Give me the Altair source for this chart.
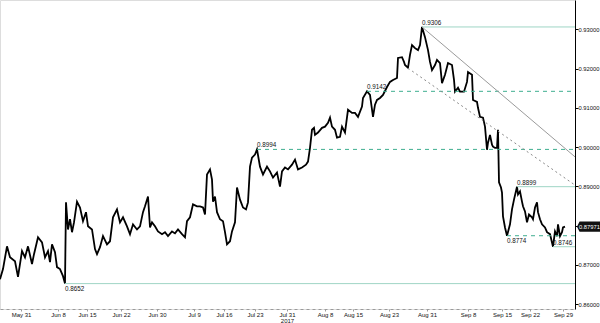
import altair as alt
import pandas as pd

# ---- price series (bar index on a trading-time axis, price) ----
bars = [0, 3, 7, 10, 15, 18, 22, 25, 28, 32, 34, 38, 42, 45, 48, 50, 52, 55, 57, 60,
        63, 65, 66, 68, 70, 72, 74, 77, 80, 83, 86, 88, 92, 95, 97, 100, 103, 107, 110, 113,
        117, 120, 123, 127, 130, 133, 137, 140, 143, 145, 148, 150, 152, 155, 158, 162, 165, 168, 172, 175,
        178, 182, 185, 187, 190, 193, 197, 200, 203, 205, 207, 210, 212, 213, 215, 217, 220, 223, 225, 227,
        230, 232, 235, 237, 240, 243, 246, 248, 250, 252, 255, 257, 260, 263, 267, 270, 273, 277, 280, 282,
        285, 288, 292, 295, 298, 302, 306, 308, 310, 312, 314, 315, 318, 322, 325, 328, 330, 332, 335, 337,
        340, 342, 345, 348, 352, 355, 358, 362, 363, 367, 370, 373, 375, 377, 380, 383, 387, 390, 393, 397,
        398, 402, 404, 405, 408, 410, 412, 415, 418, 420, 422, 425, 428, 430, 432, 435, 437, 440, 442, 445,
        448, 452, 454, 455, 458, 460, 464, 467, 468, 472, 473, 477, 478, 480, 483, 485, 487, 488, 490, 492,
        493, 495, 497, 498, 499, 501, 502, 503, 505, 507, 510, 512, 514, 517, 518, 520, 522, 523, 525, 527,
        529, 532, 533, 535, 537, 538, 540, 542, 545, 547, 550, 553, 555, 557, 558, 560, 562, 563, 565]
prices = [0.8663, 0.8689, 0.8747, 0.8719, 0.8709, 0.8669, 0.8735, 0.8719, 0.8747, 0.8702,
          0.8727, 0.8770, 0.8757, 0.8719, 0.8735, 0.8707, 0.8752, 0.8732, 0.8694, 0.8689,
          0.8671, 0.8652, 0.8859, 0.8790, 0.8816, 0.8783, 0.8808, 0.8861, 0.8846, 0.8811,
          0.8834, 0.8798, 0.8790, 0.8740, 0.8727, 0.8745, 0.8773, 0.8752, 0.8760, 0.8821,
          0.8841, 0.8808, 0.8821, 0.8798, 0.8778, 0.8803, 0.8790, 0.8798, 0.8834, 0.8849,
          0.8874, 0.8795, 0.8808, 0.8798, 0.8785, 0.8778, 0.8783, 0.8773, 0.8785, 0.8780,
          0.8790, 0.8778, 0.8770, 0.8811, 0.8821, 0.8854, 0.8849, 0.8849, 0.8846, 0.8828,
          0.8930, 0.8943, 0.8917, 0.8861, 0.8874, 0.8834, 0.8816, 0.8811, 0.8783, 0.8752,
          0.8760, 0.8785, 0.8808, 0.8897, 0.8866, 0.8846, 0.8841, 0.8859, 0.8950, 0.8973,
          0.8981, 0.8994, 0.8950, 0.8930, 0.8950, 0.8938, 0.8922, 0.8935, 0.8899, 0.8938,
          0.8948, 0.8943, 0.8955, 0.8968, 0.8943, 0.8948, 0.8955, 0.8963, 0.8998, 0.9044,
          0.9049, 0.9031, 0.9037, 0.9049, 0.9052, 0.9062, 0.9075, 0.9052, 0.9044, 0.9024,
          0.9026, 0.9052, 0.9037, 0.9095, 0.9087, 0.9087, 0.9077, 0.9103, 0.9125, 0.9142,
          0.9133, 0.9077, 0.9108, 0.9120, 0.9125, 0.9133, 0.9153, 0.9166, 0.9171, 0.9176,
          0.9227, 0.9229, 0.9217, 0.9209, 0.9202, 0.9235, 0.9260, 0.9252, 0.9247, 0.9260,
          0.9306, 0.9280, 0.9247, 0.9217, 0.9196, 0.9209, 0.9222, 0.9214, 0.9163, 0.9184,
          0.9214, 0.9209, 0.9171, 0.9141, 0.9151, 0.9141, 0.9141, 0.9166, 0.9191, 0.9184,
          0.9120, 0.9115, 0.9100, 0.9077, 0.9075, 0.9052, 0.8993, 0.9011, 0.9031, 0.9006,
          0.9001, 0.8998, 0.8998, 0.9044, 0.8910, 0.8897, 0.8884, 0.8823, 0.8795, 0.8774,
          0.8803, 0.8841, 0.8866, 0.8899, 0.8879, 0.8887, 0.8861, 0.8849, 0.8836, 0.8808,
          0.8828, 0.8821, 0.8816, 0.8846, 0.8859, 0.8834, 0.8816, 0.8803, 0.8795, 0.8783,
          0.8778, 0.8746, 0.8785, 0.8773, 0.8803, 0.8773, 0.8783, 0.8795, 0.87971]

# ---- axes ----
x_domain = [0, 575]
y_domain = [0.85873, 0.93747]
y_ticks = [0.86, 0.87, 0.88, 0.89, 0.90, 0.91, 0.92, 0.93]
x_tick_bars = [21, 58, 87, 121, 157, 194, 224, 255, 287, 325, 353, 389, 427, 468, 502, 530, 563]
x_tick_labels = ["May 31", "Jun 8", "Jun 15", "Jun 22", "Jun 30", "Jul 9", "Jul 16", "Jul 23",
                 "Jul 31", "Aug 8", "Aug 15", "Aug 23", "Aug 31", "Sep 8", "Sep 15", "Sep 22", "Sep 29"]
year_label_at = "Jul 31"
year_label = "2017"

# ---- horizontal levels ----
level_prices = [0.9306, 0.9142, 0.8994, 0.8899, 0.8774, 0.8746, 0.8652]
level_labels = ["0.9306", "0.9142", "0.8994", "0.8899", "0.8774", "0.8746", "0.8652"]
level_start = [422, 367, 257, 517, 507, 553, 65]
level_dashed = [False, True, True, False, True, False, False]
level_side = ["above", "above", "above", "above", "below", "above", "below"]

# ---- trend lines ----
trend_start_bar = [422, 408]
trend_start_price = [0.9306, 0.9201]
trend_end_price = [0.8975, 0.8903]
trend_dotted = [False, True]

last_price = 0.87971
last_label = "0.87971"

FONT = "Liberation Sans"

series = pd.DataFrame({"bar": bars, "price": prices})
levels = pd.DataFrame({"start": level_start, "end": [x_domain[1]] * len(level_start),
                       "price": level_prices, "label": level_labels,
                       "dashed": level_dashed, "side": level_side})
trends = pd.DataFrame({"start": trend_start_bar, "end": [x_domain[1]] * 2,
                       "p0": trend_start_price, "p1": trend_end_price, "dotted": trend_dotted})
tag = pd.DataFrame({"bar": [x_domain[1]], "price": [last_price], "label": [last_label]})

expr = "''"
for b, l in reversed(list(zip(x_tick_bars, x_tick_labels))):
    lab = f"['{l}', '{year_label}']" if l == year_label_at else f"'{l}'"
    expr = f"datum.value == {b} ? {lab} : ({expr})"

xs = alt.Scale(domain=x_domain, nice=False, zero=False)
ys = alt.Scale(domain=y_domain, nice=False, zero=False)

x_axis = alt.Axis(values=x_tick_bars, labelExpr=expr, grid=False, title=None,
                  domainColor="#9a9a9a", domainDash=[3, 3], tickColor="#9a9a9a",
                  tickSize=2, labelFontSize=6, labelFont=FONT, labelPadding=0,
                  labelColor="#111", labelLineHeight=6, labelFlush=False,
                  labelOverlap=False, labelBound=False)
y_axis = alt.Axis(orient="right", values=y_ticks, format=".5f", grid=False, title=None,
                  domainColor="#000", tickColor="#000", tickSize=3, labelFontSize=5.8,
                  labelFont=FONT, labelPadding=0, labelColor="#111", labelOverlap=False)

X = lambda f: alt.X(f, scale=xs, axis=x_axis)
Y = lambda f: alt.Y(f, scale=ys, axis=y_axis)

line = alt.Chart(series).mark_line(color="#000", strokeWidth=1.8).encode(
    x=X("bar:Q"), y=Y("price:Q"))

lvl_solid = alt.Chart(levels).transform_filter("!datum.dashed").mark_rule(
    color="#9fd5c5", strokeWidth=1).encode(
    x=X("start:Q"), x2="end:Q", y=Y("price:Q"))
lvl_dash = alt.Chart(levels).transform_filter("datum.dashed").mark_rule(
    color="#3fae90", strokeWidth=1, strokeDash=[4, 4]).encode(
    x=X("start:Q"), x2="end:Q", y=Y("price:Q"))

lbl_above = alt.Chart(levels).transform_filter("datum.side == 'above'").mark_text(
    align="left", baseline="bottom", dy=-1, fontSize=6.3, font=FONT, color="#111").encode(
    x=X("start:Q"), y=Y("price:Q"), text="label:N")
lbl_below = alt.Chart(levels).transform_filter("datum.side == 'below'").mark_text(
    align="left", baseline="top", dy=2, fontSize=6.3, font=FONT, color="#111").encode(
    x=X("start:Q"), y=Y("price:Q"), text="label:N")

tr_solid = alt.Chart(trends).transform_filter("!datum.dotted").mark_rule(
    color="#9b9b9b", strokeWidth=1).encode(
    x=X("start:Q"), x2="end:Q", y=Y("p0:Q"), y2="p1:Q")
tr_dot = alt.Chart(trends).transform_filter("datum.dotted").mark_rule(
    color="#8a8a8a", strokeWidth=1, strokeDash=[2, 3]).encode(
    x=X("start:Q"), x2="end:Q", y=Y("p0:Q"), y2="p1:Q")

tag_box = alt.Chart(tag).mark_point(
    shape="M-0.85,0 L-0.65,-0.4 L1,-0.4 L1,0.4 L-0.65,0.4 Z",
    size=676, filled=True, color="#111", opacity=1, xOffset=13).encode(
    x=X("bar:Q"), y=Y("price:Q"))
tag_text = alt.Chart(tag).mark_text(
    align="left", baseline="middle", fontSize=5.8, font=FONT, color="#fff", dx=4).encode(
    x=X("bar:Q"), y=Y("price:Q"), text="label:N")

chart = alt.layer(
    line, lvl_solid, lvl_dash, tr_solid, tr_dot, lbl_above, lbl_below, tag_box, tag_text
).properties(
    width=575, height=309, autosize="none",
    padding={"left": 0, "top": 0, "right": 25, "bottom": 14},
).configure_view(stroke=None).configure_axis(labelOverlap=False).configure(background="#ffffff")

chart.save("out.html", embed_options={"renderer": "svg", "actions": False})
